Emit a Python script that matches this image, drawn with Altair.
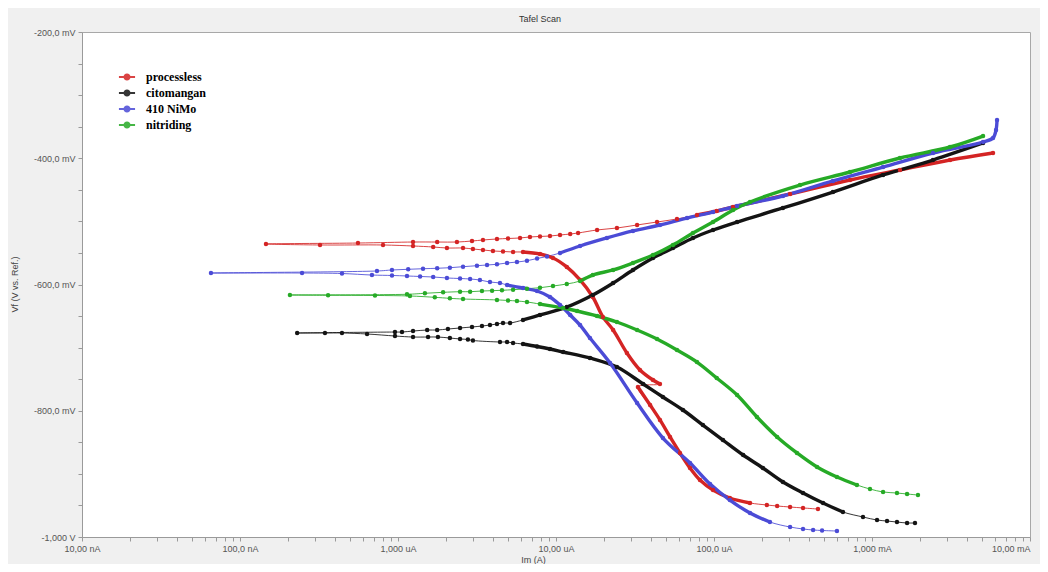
import altair as alt
import pandas as pd

SERIES = ["processless", "citomangan", "410 NiMo", "nitriding"]
COLORS = ["#d42424", "#141414", "#4b4bd6", "#26aa26"]

# (current in uA, potential in mV), each list in scan order
RED_CATH_TAIL = [(455, -955.7), (366, -954.0), (303, -952.5), (251, -950.9), (216, -949.3)]
RED_CATH_LOW = [(169, -946.1), (126, -938.2), (98.6, -925.5), (81.5, -909.7), (70.5, -890.7),
                (60.9, -866.9), (52.7, -841.5), (45.5, -814.6), (39.4, -790.9), (33.0, -762.4)]
RED_CATH_HIGH = [(45.5, -757.6), (41.1, -751.3), (34.0, -735.4), (28.1, -708.5), (23.0, -672.0),
                 (19.8, -651.4), (17.1, -619.8), (14.2, -592.8), (11.7, -572.2), (9.57, -558.0),
                 (7.92, -551.7), (6.18, -548.5)]
RED_CATH_NEAR = [(5.35, -548.5), (4.62, -547.7), (3.99, -546.9), (3.45, -545.3), (2.98, -543.7),
                 (2.58, -542.2), (2.04, -542.2), (1.67, -540.6), (1.245, -539.0), (0.804, -537.4),
                 (0.321, -537.4), (0.146, -535.8)]
RED_ANOD_NEAR = [(0.558, -534.3), (1.245, -532.7), (1.77, -532.7), (2.36, -532.7), (2.94, -531.1),
                 (3.45, -529.5), (4.23, -527.9), (4.97, -527.1), (5.92, -526.3), (6.84, -524.7),
                 (7.92, -523.9), (9.16, -523.2), (10.6, -521.6), (12.3, -520.0), (13.8, -518.4),
                 (18.2, -513.6), (24.3, -510.5), (32.6, -505.7), (43.6, -501.0), (58.3, -496.2)]
RED_ANOD = [(78.0, -489.9), (104, -483.6), (132, -477.2), (303, -456.6), (726, -434.4),
            (1503, -418.6), (3119, -402.8), (5834, -391.7)]

BLUE_CATH_TAIL = [(600, -990.5), (483, -989.7), (424, -988.9), (366, -987.3), (303, -984.2)]
BLUE_CATH = [(226, -976.3), (169, -962.0), (126, -941.4), (94.4, -916.1), (70.5, -882.8),
             (47.5, -843.2), (32.6, -787.7), (22.0, -724.4), (16.4, -684.8), (14.2, -664.2),
             (12.3, -648.3), (10.6, -632.5), (9.16, -619.8), (7.59, -610.3), (6.18, -605.6),
             (4.90, -600.8)]
BLUE_CATH_NEAR = [(4.42, -597.6), (3.82, -596.1), (3.30, -592.9), (2.86, -591.3), (2.47, -590.5),
                  (2.04, -589.7), (1.67, -588.1), (1.38, -587.3), (1.14, -586.5), (0.916, -585.7),
                  (0.684, -585.0), (0.442, -582.6), (0.247, -581.8), (0.0655, -581.8)]
BLUE_ANOD_NEAR = [(0.736, -578.6), (0.916, -577.0), (1.16, -575.9), (1.44, -575.0), (1.77, -574.3),
                  (2.13, -573.4), (2.58, -571.8), (3.16, -570.2), (3.66, -569.1), (4.23, -568.0),
                  (4.90, -565.9), (5.66, -564.4), (6.55, -562.3), (7.59, -558.8), (8.77, -555.6)]
BLUE_ANOD = [(10.6, -550.1), (14.2, -539.0), (21.0, -526.3), (30.7, -515.2), (45.5, -505.7),
             (67.5, -494.7), (98.6, -485.2), (140, -475.6), (273, -459.8), (566, -436.0),
             (1175, -413.9), (2432, -391.7), (5045, -374.3), (5834, -367.9), (6095, -355.3),
             (6185, -339.4)]

GREEN_CATH_TAIL = [(1954, -933.5), (1667, -931.9), (1439, -930.3), (1175, -928.7), (971, -924.0)]
GREEN_CATH = [(803, -917.6), (600, -905.0), (449, -889.1), (335, -866.9), (251, -841.6),
              (187, -809.9), (140, -775.1), (104, -748.1), (78.0, -722.8), (58.3, -703.8),
              (43.6, -686.4), (32.6, -672.1), (24.3, -659.4), (18.2, -649.9), (13.6, -642.0),
              (11.1, -637.2), (7.92, -631.0)]
GREEN_CATH_NEAR = [(6.55, -627.7), (5.66, -626.1), (4.97, -625.3), (4.23, -624.4), (2.58, -623.0),
                   (2.13, -621.9), (1.71, -620.3), (1.19, -618.2), (0.715, -617.4), (0.361, -617.1),
                   (0.207, -616.6)]
GREEN_ANOD_NEAR = [(1.14, -615.5), (1.48, -613.9), (1.93, -612.4), (2.47, -611.4), (2.86, -611.4),
                   (3.40, -610.3), (3.94, -609.8), (4.55, -609.2), (5.35, -608.2), (6.55, -606.7),
                   (7.92, -605.1), (9.57, -602.4), (11.7, -599.2)]
GREEN_ANOD = [(14.2, -594.5), (17.1, -585.0), (23.0, -577.0), (30.7, -565.9), (41.1, -553.3),
              (55.0, -537.4), (73.6, -518.4), (98.6, -501.0), (132, -482.0), (169, -469.3),
              (350, -442.4), (726, -421.8), (1503, -399.6), (3119, -382.2), (5045, -364.8)]

BLACK_CATH_TAIL = [(1871, -977.8), (1667, -977.8), (1439, -976.3), (1245, -974.7), (1076, -973.1),
                   (877, -968.3)]
BLACK_CATH = [(655, -960.4), (490, -946.2), (366, -930.3), (273, -912.9), (204, -890.7),
              (153, -870.1), (114, -846.4), (85.1, -822.6), (63.6, -798.8), (47.5, -778.2),
              (35.6, -757.6), (24.3, -730.7), (16.4, -716.4), (11.1, -706.9), (9.16, -702.2),
              (7.59, -698.2), (6.18, -694.3)]
BLACK_CATH_NEAR = [(5.35, -692.7), (4.90, -691.1), (4.42, -691.1), (2.98, -688.7), (2.77, -687.1),
                   (2.47, -686.3), (2.13, -684.8), (1.79, -683.2), (1.55, -683.2), (1.245, -683.2),
                   (0.957, -681.6), (0.637, -678.4), (0.442, -676.8), (0.345, -676.8), (0.230, -676.8)]
BLACK_ANOD_NEAR = [(0.957, -675.3), (1.06, -675.3), (1.245, -673.7), (1.53, -672.1), (1.77, -672.1),
                   (2.07, -670.5), (2.47, -668.9), (2.94, -667.3), (3.40, -665.8), (3.82, -664.2),
                   (4.23, -662.6), (4.62, -661.0), (5.12, -661.0)]
BLACK_ANOD = [(6.18, -656.2), (7.92, -648.3), (11.7, -635.7), (17.1, -616.6), (23.0, -597.6),
              (30.7, -577.0), (41.1, -558.0), (55.0, -542.2), (73.6, -526.3), (98.6, -513.7),
              (140, -501.0), (273, -478.8), (566, -453.5), (1175, -426.5), (2432, -402.8),
              (5045, -375.8)]

X_LABELS = {0.01: "10,00 nA", 0.1: "100,0 nA", 1: "1,000 uA", 10: "10,00 uA",
            100: "100,0 uA", 1000: "1,000 mA", 10000: "10,00 mA"}
Y_LABELS = {-200: "-200,0 mV", -400: "-400,0 mV", -600: "-600,0 mV",
            -800: "-800,0 mV", -1000: "-1,000 V"}

PIECES = {
    "processless": [(False, RED_CATH_TAIL), (True, RED_CATH_LOW), (True, RED_CATH_HIGH),
                    (False, RED_CATH_NEAR), (False, RED_ANOD_NEAR), (True, RED_ANOD)],
    "citomangan": [(False, BLACK_CATH_TAIL), (True, BLACK_CATH), (False, BLACK_CATH_NEAR),
                   (False, BLACK_ANOD_NEAR), (True, BLACK_ANOD)],
    "410 NiMo": [(False, BLUE_CATH_TAIL), (True, BLUE_CATH), (False, BLUE_CATH_NEAR),
                 (False, BLUE_ANOD_NEAR), (True, BLUE_ANOD)],
    "nitriding": [(False, GREEN_CATH_TAIL), (True, GREEN_CATH), (False, GREEN_CATH_NEAR),
                  (False, GREEN_ANOD_NEAR), (True, GREEN_ANOD)],
}

rows = []
for name, pieces in PIECES.items():
    order = 0
    for k, (dense, pts) in enumerate(pieces):
        for cur, pot in pts:
            rows.append(dict(series=name, I=cur, E=pot, order=order, dense=dense, seg=f"{name}-{k}"))
            order += 1
df = pd.DataFrame(rows)

# axis ticks
x_ticks = []
for p in range(-2, 4):
    for m in range(1, 10):
        x_ticks.append(round(m * 10 ** p, 6))
x_ticks.append(10000)
x_expr = "''"
for v, lab in X_LABELS.items():
    x_expr = f"abs(datum.value - {v}) < {v}*1e-6 ? '{lab}' : ({x_expr})"
y_ticks = list(range(-1000, -199, 50))
y_expr = "''"
for v, lab in Y_LABELS.items():
    y_expr = f"datum.value == {v} ? '{lab}' : ({y_expr})"

FONT = "Liberation Sans"
x_enc = alt.X("I:Q", scale=alt.Scale(type="log", domain=[0.01, 10000], nice=False),
              axis=alt.Axis(values=x_ticks, labelExpr=x_expr, title="Im (A)", grid=False,
                            labelFlush=False, labelOverlap=False, labelBound=False,
                            labelAlign={"condition": {"test": "datum.value > 5000", "value": "right"},
                                        "value": "center"},
                            tickSize=4, labelPadding=3, domainColor="#9a9a9a", tickColor="#9a9a9a",
                            labelColor="#555555", labelFont=FONT, labelFontSize=9,
                            titleFont=FONT, titleFontSize=9, titleFontWeight="normal",
                            titleColor="#444444", titleX=451, titleY=22, titleBaseline="middle"))
y_enc = alt.Y("E:Q", scale=alt.Scale(domain=[-1000, -200], nice=False, zero=False),
              axis=alt.Axis(values=y_ticks, labelExpr=y_expr, title="Vf (V vs. Ref.)", grid=False,
                            labelFlush=False, labelOverlap=False, labelBound=False,
                            tickSize=4, labelPadding=3, domainColor="#9a9a9a", tickColor="#9a9a9a",
                            labelColor="#555555", labelFont=FONT, labelFontSize=9,
                            titleFont=FONT, titleFontSize=9, titleFontWeight="normal",
                            titleColor="#444444", titleX=-68, titleY=252, titleBaseline="middle",
                            titleAlign="center"))

SYMBOL = "M-1,0L1,0M0.33,0A0.33,0.33,0,1,1,-0.33,0A0.33,0.33,0,1,1,0.33,0Z"
legend = alt.Legend(title=None, orient="none", legendX=36, legendY=36, symbolType=SYMBOL,
                    symbolSize=260, symbolStrokeWidth=1.8, labelFont="Liberation Serif",
                    labelFontWeight="bold", labelFontSize=12, labelColor="black",
                    labelOffset=10, rowPadding=0, padding=0)
color = alt.Color("series:N", scale=alt.Scale(domain=SERIES, range=COLORS), legend=legend)

base = alt.Chart(df)
thin = base.mark_line(strokeWidth=1, clip=True, opacity=0.85, interpolate="catmull-rom").encode(
    x=x_enc, y=y_enc, color=color, detail="series:N", order="order:Q")
thick = base.transform_filter("datum.dense").mark_line(
    strokeWidth=3.4, clip=True, interpolate="catmull-rom").encode(
    x=x_enc, y=y_enc, color=color, detail="seg:N", order="order:Q")
pts = base.mark_circle(size=20, opacity=1, clip=True).encode(x=x_enc, y=y_enc, color=color)

chart = alt.layer(thin, thick, pts).properties(
    width=948, height=505,
    autosize=alt.AutoSizeParams(type="none"),
    padding={"left": 74, "top": 24, "right": 10, "bottom": 27},
    background="#f0f0f0",
    title=alt.TitleParams("Tafel Scan", fontSize=9, fontWeight="normal", font=FONT,
                          color="#333333", frame="group", offset=4, dx=-16, anchor="middle"),
).configure_view(fill="white", stroke="#a8a8a8", strokeWidth=1)

chart.save("out.html", embed_options={"renderer": "svg", "actions": False})
